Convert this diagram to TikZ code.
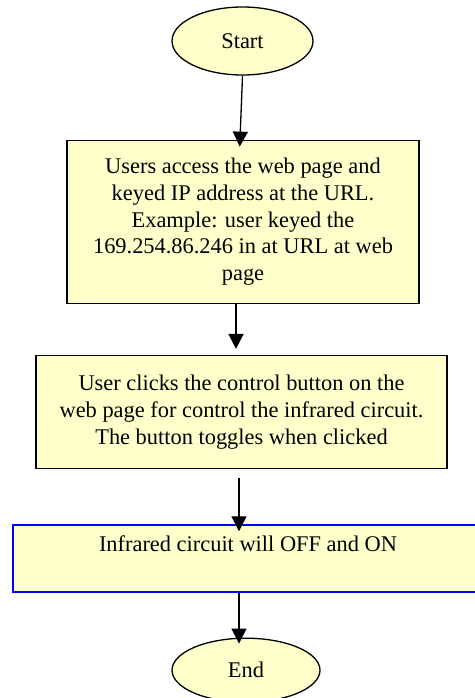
\documentclass[tikz,border=0pt]{standalone}
\usepackage{fontspec}
\setmainfont{Liberation Serif}
\usetikzlibrary{positioning,shapes.geometric,arrows.meta}
\definecolor{flowfill}{HTML}{FFFFCC}
\definecolor{flowblue}{HTML}{0000FF}

\begin{document}
\begin{tikzpicture}[
        terminal/.style={
            draw,
            ellipse,
            fill=flowfill,
            line width=1.3pt,
            minimum width=141pt,
            minimum height=68pt,
            inner sep=0pt
        },
        stepbox/.style={
            draw,
            rectangle,
            align=center,
            fill=flowfill,
            line width=1.3pt,
            inner sep=4pt
        },
        arrow/.style={
            -{Triangle[width=15pt,length=15pt]},
            line width=1.3pt
        },
        font=\fontsize{22.4}{26.7}\selectfont
    ]
        \useasboundingbox (0,0) rectangle (474pt,-698pt);
        \node (start) [terminal] at (242.5pt,-41pt) {Start};
        \node (access) [stepbox, minimum width=352pt, minimum height=163pt, below=64pt of start, xshift=0.5pt] {Users access the web page and\\keyed IP address at the URL.\\Example: user keyed the\\169.254.86.246 in at URL at web\\page};
        \node (click) [stepbox, minimum width=411pt, minimum height=113pt, below=51pt of access, xshift=-1.5pt] {User clicks the control button on the\\web page for control the infrared circuit.\\The button toggles when clicked};
        \node (infra) [stepbox, draw=flowblue, minimum width=470pt, minimum height=67pt, below=55pt of click, xshift=6.5pt] {Infrared circuit will OFF and ON\\[-5pt]\strut};
        \node (end) [terminal, minimum width=148pt, minimum height=64pt, below=45pt of infra, xshift=-2pt] {End};
        \draw[arrow, shorten >=-7pt] (start.south) -- ([xshift=-3pt]access.north);
        \draw[arrow, shorten >=6pt] ([xshift=-7pt]access.south) -- ([xshift=-7pt]access.south |- click.north);
        \draw[arrow, shorten <=9pt, shorten >=-7pt] ([xshift=-2.5pt]click.south) -- ([xshift=-2.5pt]click.south |- infra.north);
        \draw[arrow, shorten >=-6pt] ([xshift=-7pt]end.north |- infra.south) -- ([xshift=-7pt]end.north);
    \end{tikzpicture}
\end{document}
